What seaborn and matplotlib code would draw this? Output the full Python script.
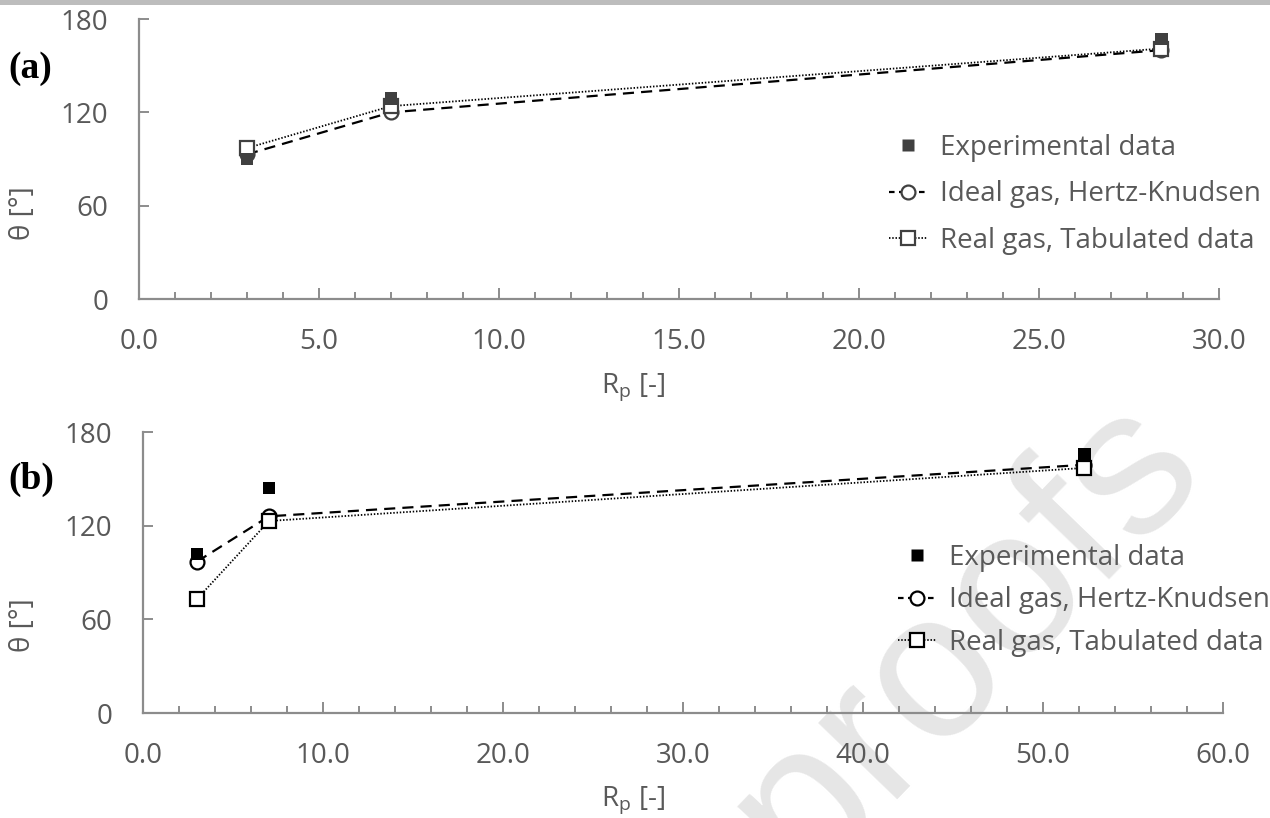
import matplotlib
matplotlib.use("Agg")
import matplotlib.pyplot as plt
import seaborn as sns
from matplotlib.ticker import MultipleLocator, FormatStrFormatter
from matplotlib.lines import Line2D
from matplotlib.patches import Rectangle

# ---------------- data ----------------
rp_a = [3.0, 7.0, 28.4]
exp_a = [90, 129, 167]
ideal_a = [93, 120, 160]
real_a = [97, 124, 161]

rp_b = [3.0, 7.0, 52.3]
exp_b = [102, 144, 166]
ideal_b = [97, 126, 159]
real_b = [73, 123, 157]

series_labels = ["Experimental data", "Ideal gas, Hertz-Knudsen", "Real gas, Tabulated data"]
y_ticks = [0, 60, 120, 180]
panel_labels = ["(a)", "(b)"]

# ---------------- style ----------------
sns.set_theme(style="white")
plt.rcParams["font.family"] = ["Open Sans", "DejaVu Sans"]
plt.rcParams["mathtext.default"] = "regular"

FS = 20
TXT = "#595959"
SPINE = "#8c8c8c"
W, H = 1270, 818
fig = plt.figure(figsize=(12.7, 8.18), dpi=100)
fig.patch.set_facecolor("white")

# header band
fig.patches.append(Rectangle((0, 1 - 5 / H), 1, 5 / H, transform=fig.transFigure,
                             facecolor="#bdbdbd", edgecolor="none", zorder=-20))
# watermark
fig.text(1210 / W, 1 - 476 / H, "Journal Pre-proofs", rotation=46, rotation_mode="anchor",
         ha="right", va="baseline", fontsize=150, color="#e6e6e6",
         family="Liberation Sans", zorder=-10)


def make_axes(rect):
    ax = fig.add_axes(rect)
    ax.set_facecolor("none")
    return ax


ax_a = make_axes([139 / W, 1 - 299 / H, (1219 - 139) / W, (299 - 19) / H])
ax_b = make_axes([143 / W, 1 - 713 / H, (1223 - 143) / W, (713 - 432) / H])

panels = [
    (ax_a, rp_a, exp_a, ideal_a, real_a, 30, 5, 1, "#404040", "#404040"),
    (ax_b, rp_b, exp_b, ideal_b, real_b, 60, 10, 2, "black", "black"),
]

dash_ls = (0, (5.0, 3.2))
dot_ls = (0, (0.8, 1.0))

for ax, rp, ex, idl, rl, xmax, major, minor, mcol, ocol in panels:
    sns.lineplot(x=rp, y=idl, ax=ax, color="black", linewidth=1.6, linestyle=dash_ls,
                 marker="o", markersize=10, markerfacecolor="white", markeredgecolor=ocol,
                 markeredgewidth=1.6, zorder=3, label=series_labels[1], legend=False)
    sns.lineplot(x=rp, y=rl, ax=ax, color="black", linewidth=1.3, linestyle=dot_ls,
                 marker="s", markersize=10, markerfacecolor="white", markeredgecolor=ocol,
                 markeredgewidth=1.6, zorder=4, label=series_labels[2], legend=False)
    sns.scatterplot(x=rp, y=ex, ax=ax, marker="s", s=80, color=mcol, edgecolor="none",
                    zorder=5, label=series_labels[0], legend=False)

    ax.set_xlim(0, xmax)
    ax.set_ylim(0, 180)
    ax.set_yticks(y_ticks)
    ax.xaxis.set_major_locator(MultipleLocator(major))
    ax.xaxis.set_minor_locator(MultipleLocator(minor))
    ax.xaxis.set_major_formatter(FormatStrFormatter("%.1f"))
    for s in ["top", "right"]:
        ax.spines[s].set_visible(False)
    for s in ["left", "bottom"]:
        ax.spines[s].set_color(SPINE)
        ax.spines[s].set_linewidth(1.6)
    ax.tick_params(axis="x", which="major", direction="in", length=8, width=1.4,
                   color=SPINE, labelsize=FS, labelcolor=TXT, pad=21, bottom=True)
    ax.tick_params(axis="x", which="minor", direction="in", length=5, width=1.4,
                   color=SPINE, bottom=True)
    ax.tick_params(axis="y", which="major", direction="in", length=7, width=1.4,
                   color=SPINE, labelsize=FS, labelcolor=TXT, pad=22, left=True)
    ax.set_xlabel("")
    ax.set_ylabel("")

# legend handles (Excel-like)
def handles(mcol, ocol):
    return [
        Line2D([], [], linestyle="none", marker="s", markersize=9, color=mcol, markeredgecolor="none"),
        Line2D([], [], color="black", linewidth=1.6, linestyle=(0, (2.5, 2.0)), marker="o",
               markersize=10, markerfacecolor="white", markeredgecolor=ocol, markeredgewidth=1.6),
        Line2D([], [], color="black", linewidth=1.3, linestyle=dot_ls, marker="s",
               markersize=10, markerfacecolor="white", markeredgecolor=ocol, markeredgewidth=1.6),
    ]

for ax, (mcol, ocol), (lx, ly), spacing in [
    (ax_a, ("#404040", "#404040"), (889, 134), 0.66),
    (ax_b, ("black", "black"), (898, 544), 0.52),
]:
    leg = ax.legend(handles(mcol, ocol), series_labels, loc="upper left",
                    bbox_to_anchor=(lx / W, 1 - ly / H), bbox_transform=fig.transFigure,
                    frameon=False, fontsize=FS, handlelength=1.4, handletextpad=0.45,
                    labelspacing=spacing, borderpad=0, borderaxespad=0)
    for t in leg.get_texts():
        t.set_color(TXT)

# axis titles
fig.text(23 / W, 1 - 213 / H, "θ [°]", rotation=90, ha="center", va="center",
         fontsize=FS, color=TXT)
fig.text(23 / W, 1 - 625 / H, "θ [°]", rotation=90, ha="center", va="center",
         fontsize=FS, color=TXT)
fig.text(633 / W, 1 - 387 / H, "R$_{p}$ [-]", ha="center", va="center", fontsize=FS, color=TXT)
fig.text(633 / W, 1 - 800 / H, "R$_{p}$ [-]", ha="center", va="center", fontsize=FS, color=TXT)

# panel labels
fig.text(8 / W, 1 - 68 / H, panel_labels[0], ha="left", va="center", fontsize=27,
         fontweight="bold", family="Liberation Serif", color="black")
fig.text(8 / W, 1 - 479 / H, panel_labels[1], ha="left", va="center", fontsize=27,
         fontweight="bold", family="Liberation Serif", color="black")

fig.savefig("out.png", dpi=100, facecolor="white")
